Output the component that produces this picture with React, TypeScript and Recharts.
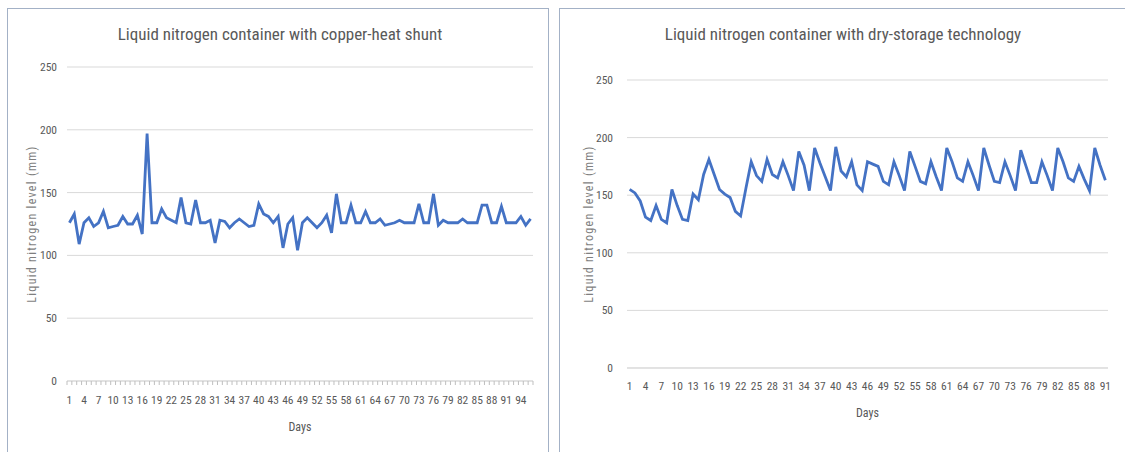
import { LineChart, Line, XAxis, YAxis, CartesianGrid } from "recharts";

// days of measurement
const shuntDays = Array.from({ length: 96 }, (_, i) => i + 1);
const dryDays = Array.from({ length: 91 }, (_, i) => i + 1);

// liquid nitrogen level (mm), copper-heat shunt container
const shuntLevels = [
  126, 133, 109, 126, 130, 123, 126, 135, 122, 123,
  124, 131, 125, 125, 132, 117, 197, 126, 126, 137,
  130, 128, 126, 146, 126, 125, 144, 126, 126, 128,
  110, 128, 127, 122, 126, 129, 126, 123, 124, 141,
  133, 131, 126, 131, 106, 125, 130, 104, 126, 130,
  126, 122, 126, 132, 118, 149, 126, 126, 140, 126,
  126, 135, 126, 126, 129, 124, 125, 126, 128, 126,
  126, 126, 141, 126, 126, 149, 124, 128, 126, 126,
  126, 129, 126, 126, 126, 140, 140, 126, 126, 139,
  126, 126, 126, 131, 124, 129,
];

// liquid nitrogen level (mm), dry-storage container
const dryLevels = [
  155, 152, 145, 131, 128, 141, 129, 126, 155, 141,
  129, 128, 151, 146, 168, 181, 168, 155, 151, 148,
  136, 132, 156, 179, 167, 162, 181, 168, 165, 179,
  167, 154, 188, 176, 154, 191, 178, 166, 154, 192,
  171, 166, 179, 159, 154, 179, 177, 175, 162, 159,
  179, 167, 154, 188, 175, 162, 160, 179, 166, 154,
  191, 179, 165, 162, 179, 167, 154, 191, 176, 162,
  161, 179, 167, 154, 189, 175, 161, 161, 179, 167,
  154, 191, 179, 165, 162, 175, 164, 154, 191, 176,
  163,
];

const shuntTicks = [1, 4, 7, 10, 13, 16, 19, 22, 25, 28, 31, 34, 37, 40, 43, 46, 49, 52, 55, 58, 61, 64, 67, 70, 73, 76, 79, 82, 85, 88, 91, 94];
const dryTicks = [1, 4, 7, 10, 13, 16, 19, 22, 25, 28, 31, 34, 37, 40, 43, 46, 49, 52, 55, 58, 61, 64, 67, 70, 73, 76, 79, 82, 85, 88, 91];
const levelTicks = [0, 50, 100, 150, 200, 250];

const shuntData = shuntDays.map((day, i) => ({ day, level: shuntLevels[i] }));
const dryData = dryDays.map((day, i) => ({ day, level: dryLevels[i] }));
// excel puts small tick marks between the categories
const shuntBounds = [0, ...shuntDays].map((d) => d + 0.5);

const FONT = '"Liberation Sans Narrow", "Roboto Condensed", Roboto, sans-serif';
const TEXT = "#595959";
const GRID = "#d9d9d9";
const BLUE = "#4472c4";
const BORDER = "#a3b1c6";

const tickStyle = { fill: TEXT, fontSize: 11.5, fontFamily: FONT };
const yLabelStyle = {
  fill: "#7f7f7f",
  fontSize: 12,
  fontFamily: FONT,
  letterSpacing: 1.3,
  textAnchor: "middle" as const,
};

function Title({ x, text }: { x: number; text: string }) {
  return (
    <div
      style={{
        position: "absolute",
        left: x - 250,
        width: 500,
        top: 24,
        textAlign: "center",
        fontFamily: FONT,
        fontSize: 17,
        color: TEXT,
      }}
    >
      {text}
    </div>
  );
}

export default function App() {
  return (
    <div
      style={{
        position: "absolute",
        left: 0,
        top: 0,
        width: 1125,
        height: 452,
        background: "#fff",
        overflow: "hidden",
      }}
    >
      <div
        style={{
          position: "absolute",
          left: 7,
          top: 8,
          width: 540,
          height: 460,
          border: `1.5px solid ${BORDER}`,
        }}
      />
      <div
        style={{
          position: "absolute",
          left: 559,
          top: 8,
          width: 580,
          height: 460,
          border: `1.5px solid ${BORDER}`,
        }}
      />

      <Title x={280} text="Liquid nitrogen container with copper-heat shunt" />
      <Title x={843} text="Liquid nitrogen container with dry-storage technology" />

      <div style={{ position: "absolute", left: 0, top: 0 }}>
        <LineChart
          width={560}
          height={452}
          data={shuntData}
          margin={{ top: 67, right: 27, left: 27, bottom: 16 }}
        >
          <CartesianGrid vertical={false} stroke={GRID} />
          <XAxis
            xAxisId="labels"
            dataKey="day"
            type="number"
            domain={[0.5, 96.5]}
            ticks={shuntTicks}
            interval={0}
            height={54}
            axisLine={false}
            tickLine={false}
            tickSize={4}
            tickMargin={10}
            tick={tickStyle}
            label={{
              value: "Days",
              position: "insideBottom",
              offset: 5,
              style: { fill: TEXT, fontSize: 12, fontFamily: FONT },
            }}
          />
          <XAxis
            dataKey="day"
            type="number"
            domain={[0.5, 96.5]}
            ticks={shuntBounds}
            interval={0}
            height={1}
            axisLine={{ stroke: GRID }}
            tick={() => <g />}
            tickLine={{ stroke: "#bfbfbf" }}
            tickSize={4}
          />
          <YAxis
            domain={[0, 250]}
            ticks={levelTicks}
            width={40}
            axisLine={false}
            tickLine={false}
            tickSize={4}
            tickMargin={6}
            tick={tickStyle}
            label={{
              value: "Liquid nitrogen level (mm)",
              angle: -90,
              position: "insideLeft",
              offset: 5,
              style: yLabelStyle,
            }}
          />
          <Line
            type="linear"
            dataKey="level"
            stroke={BLUE}
            strokeWidth={2.8}
            dot={false}
            isAnimationActive={false}
          />
        </LineChart>
      </div>

      <div style={{ position: "absolute", left: 555, top: 0 }}>
        <LineChart
          width={570}
          height={452}
          data={dryData}
          margin={{ top: 80, right: 17, left: 32, bottom: 30 }}
        >
          <CartesianGrid vertical={false} stroke={GRID} />
          <XAxis
            dataKey="day"
            type="number"
            domain={[0.5, 91.5]}
            ticks={dryTicks}
            interval={0}
            height={54}
            axisLine={{ stroke: GRID }}
            tickLine={false}
            tickSize={4}
            tickMargin={10}
            tick={tickStyle}
            label={{
              value: "Days",
              position: "insideBottom",
              offset: 5,
              style: { fill: TEXT, fontSize: 12, fontFamily: FONT },
            }}
          />
          <YAxis
            domain={[0, 250]}
            ticks={levelTicks}
            width={40}
            axisLine={false}
            tickLine={false}
            tickSize={4}
            tickMargin={10}
            tick={tickStyle}
            label={{
              value: "Liquid nitrogen level (mm)",
              angle: -90,
              position: "insideLeft",
              offset: 2,
              style: yLabelStyle,
            }}
          />
          <Line
            type="linear"
            dataKey="level"
            stroke={BLUE}
            strokeWidth={2.8}
            dot={false}
            isAnimationActive={false}
          />
        </LineChart>
      </div>
    </div>
  );
}
